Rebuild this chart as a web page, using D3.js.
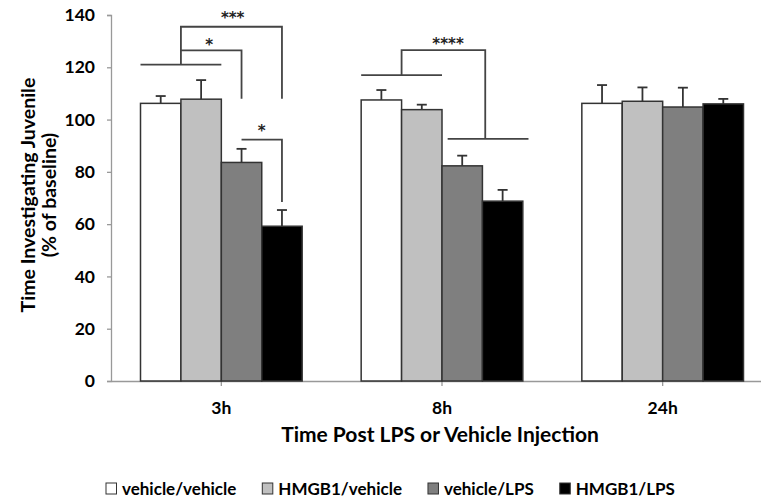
<!DOCTYPE html>
<html>
<head>
<meta charset="utf-8">
<script src="https://cdn.jsdelivr.net/npm/d3@7"></script>
<style>
  body { margin: 0; background: #fff; }
  svg { font-family: Lato, "Open Sans", sans-serif; font-weight: bold; }
</style>
</head>
<body>
<div id="vis"></div>
<script>
// Frame size and margins
const FRAME_WIDTH = 761;
const FRAME_HEIGHT = 500;
const MARGINS = {left: 111, top: 15, bottom: 119};
const PLOT_RIGHT = 773;
const PLOT_BOTTOM = FRAME_HEIGHT - MARGINS.bottom;

// Data
const GROUPS = ["3h", "8h", "24h"];
const SERIES = ["vehicle/vehicle", "HMGB1/vehicle", "vehicle/LPS", "HMGB1/LPS"];
const COLORS = ["#ffffff", "#c0c0c0", "#7f7f7f", "#000000"];
const MEANS = {
  "3h":  [106.2, 107.8, 83.6, 59.2],
  "8h":  [107.5, 103.8, 82.3, 68.8],
  "24h": [106.2, 107.0, 104.8, 106.0]
};
const ERRORS = {
  "3h":  [2.8, 7.3, 5.2, 6.2],
  "8h":  [3.8, 1.9, 3.9, 4.3],
  "24h": [7.0, 5.3, 7.4, 1.9]
};
const Y_TICKS = [0, 20, 40, 60, 80, 100, 120, 140];

// Significance brackets: points are [bar position within group, value]
const BRACKETS = [
  {group: "3h", points: [[0, 121], [2, 121]]},
  {group: "3h", points: [[1, 121], [1, 126.5], [2.5, 126.5], [2.5, 108]]},
  {group: "3h", points: [[1, 126.5], [1, 135.5], [3.5, 135.5], [3.5, 108]]},
  {group: "3h", points: [[2.5, 92.3], [3.5, 92.3], [3.5, 68.5]]},
  {group: "8h", points: [[0, 117], [2, 117]]},
  {group: "8h", points: [[1, 117], [1, 126.6], [3.07, 126.6], [3.07, 92.6]]},
  {group: "8h", points: [[2.14, 92.6], [4.14, 92.6]]}
];
const STARS = [
  {group: "3h", pos: 1.7, value: 129.7, label: "*"},
  {group: "3h", pos: 2.28, value: 140, label: "***"},
  {group: "3h", pos: 3.0, value: 96.8, label: "*"},
  {group: "8h", pos: 2.15, value: 130.2, label: "****"}
];

const FRAME = d3.select("#vis")
  .append("svg")
    .attr("width", FRAME_WIDTH)
    .attr("height", FRAME_HEIGHT);

// Scales
const X_SCALE = d3.scaleBand()
  .domain(GROUPS)
  .range([MARGINS.left, PLOT_RIGHT]);

const SUB_SCALE = d3.scaleBand()
  .domain(SERIES)
  .range([0, X_SCALE.bandwidth()])
  .paddingOuter(0.73);

const Y_SCALE = d3.scaleLinear()
  .domain([0, 140])
  .range([PLOT_BOTTOM, MARGINS.top]);

// x position from bar units inside a group
function barX(group, pos) {
  return X_SCALE(group) + SUB_SCALE(SERIES[0]) + pos * SUB_SCALE.bandwidth();
}

// Y axis
const yAxis = FRAME.append("g")
  .attr("transform", "translate(" + MARGINS.left + ",0)")
  .call(d3.axisLeft(Y_SCALE).tickValues(Y_TICKS).tickSize(4).tickPadding(12));
yAxis.select(".domain").attr("stroke", "#999").attr("stroke-width", 1.3);
yAxis.selectAll(".tick line").attr("stroke", "#999").attr("stroke-width", 1.3);
yAxis.selectAll("text")
  .attr("font-family", "Lato")
  .attr("font-weight", "bold")
  .attr("font-size", "17.5px")
  .attr("fill", "#000");

// X axis
const xAxis = FRAME.append("g")
  .attr("transform", "translate(0," + PLOT_BOTTOM + ")")
  .call(d3.axisBottom(X_SCALE).tickSize(5).tickSizeOuter(0).tickPadding(16));
xAxis.select(".domain").attr("stroke", "#999").attr("stroke-width", 1.3);
xAxis.selectAll(".tick line").attr("stroke", "#999").attr("stroke-width", 1.3);
xAxis.selectAll("text")
  .attr("font-family", "Lato")
  .attr("font-weight", "bold")
  .attr("font-size", "17.5px")
  .attr("fill", "#000");

// Flatten data for bars
const data = [];
GROUPS.forEach((g) => {
  SERIES.forEach((s, i) => {
    data.push({group: g, series: s, idx: i, value: MEANS[g][i], err: ERRORS[g][i]});
  });
});

// Error bars (drawn under the bars)
const errs = FRAME.append("g");
errs.selectAll("line.stem")
  .data(data)
  .enter()
  .append("line")
    .attr("x1", (d) => { return X_SCALE(d.group) + SUB_SCALE(d.series) + SUB_SCALE.bandwidth() / 2; })
    .attr("x2", (d) => { return X_SCALE(d.group) + SUB_SCALE(d.series) + SUB_SCALE.bandwidth() / 2; })
    .attr("y1", (d) => { return Y_SCALE(d.value); })
    .attr("y2", (d) => { return Y_SCALE(d.value + d.err); })
    .attr("stroke", "#333")
    .attr("stroke-width", 1.8);
errs.selectAll("line.cap")
  .data(data)
  .enter()
  .append("line")
    .attr("x1", (d) => { return X_SCALE(d.group) + SUB_SCALE(d.series) + SUB_SCALE.bandwidth() / 2 - 5; })
    .attr("x2", (d) => { return X_SCALE(d.group) + SUB_SCALE(d.series) + SUB_SCALE.bandwidth() / 2 + 5; })
    .attr("y1", (d) => { return Y_SCALE(d.value + d.err); })
    .attr("y2", (d) => { return Y_SCALE(d.value + d.err); })
    .attr("stroke", "#333")
    .attr("stroke-width", 1.8);

// Bars
FRAME.append("g")
  .selectAll("rect")
  .data(data)
  .enter()
  .append("rect")
    .attr("x", (d) => { return X_SCALE(d.group) + SUB_SCALE(d.series); })
    .attr("y", (d) => { return Y_SCALE(d.value); })
    .attr("width", SUB_SCALE.bandwidth())
    .attr("height", (d) => { return PLOT_BOTTOM - Y_SCALE(d.value); })
    .attr("fill", (d) => { return COLORS[d.idx]; })
    .attr("stroke", "#333")
    .attr("stroke-width", 1.5);

// Significance brackets
const line = d3.line();
FRAME.append("g")
  .selectAll("path")
  .data(BRACKETS)
  .enter()
  .append("path")
    .attr("d", (b) => { return line(b.points.map((p) => [barX(b.group, p[0]), Y_SCALE(p[1])])); })
    .attr("fill", "none")
    .attr("stroke", "#444")
    .attr("stroke-width", 1.8);

FRAME.append("g")
  .selectAll("text")
  .data(STARS)
  .enter()
  .append("text")
    .attr("x", (s) => { return barX(s.group, s.pos); })
    .attr("y", (s) => { return Y_SCALE(s.value) + 8; })
    .attr("text-anchor", "middle")
    .attr("font-family", "DejaVu Sans")
    .attr("font-size", "15px")
    .attr("fill", "#222")
    .text((s) => { return s.label; });

// Axis titles
FRAME.append("text")
  .attr("x", (MARGINS.left + PLOT_RIGHT) / 2 - 2)
  .attr("y", 442)
  .attr("text-anchor", "middle")
  .attr("font-size", "21px")
  .text("Time Post LPS or Vehicle Injection");

const yTitle = FRAME.append("text")
  .attr("transform", "translate(0," + 195 + ") rotate(-90)")
  .attr("text-anchor", "middle")
  .attr("font-size", "19.5px");
yTitle.append("tspan").attr("x", 0).attr("y", 35).text("Time Investigating Juvenile");
yTitle.append("tspan").attr("x", 0).attr("y", 56).text("(% of baseline)");

// Legend
const legend = FRAME.append("g");
let lx = 106;
SERIES.forEach((s, i) => {
  legend.append("rect")
    .attr("x", lx)
    .attr("y", 483)
    .attr("width", 10.5)
    .attr("height", 11)
    .attr("fill", COLORS[i])
    .attr("stroke", "#333")
    .attr("stroke-width", 1);
  const t = legend.append("text")
    .attr("x", lx + 16)
    .attr("y", 495)
    .attr("font-size", "17px")
    .text(s);
  lx = lx + 16 + t.node().getComputedTextLength() + 26;
});
</script>
</body>
</html>
